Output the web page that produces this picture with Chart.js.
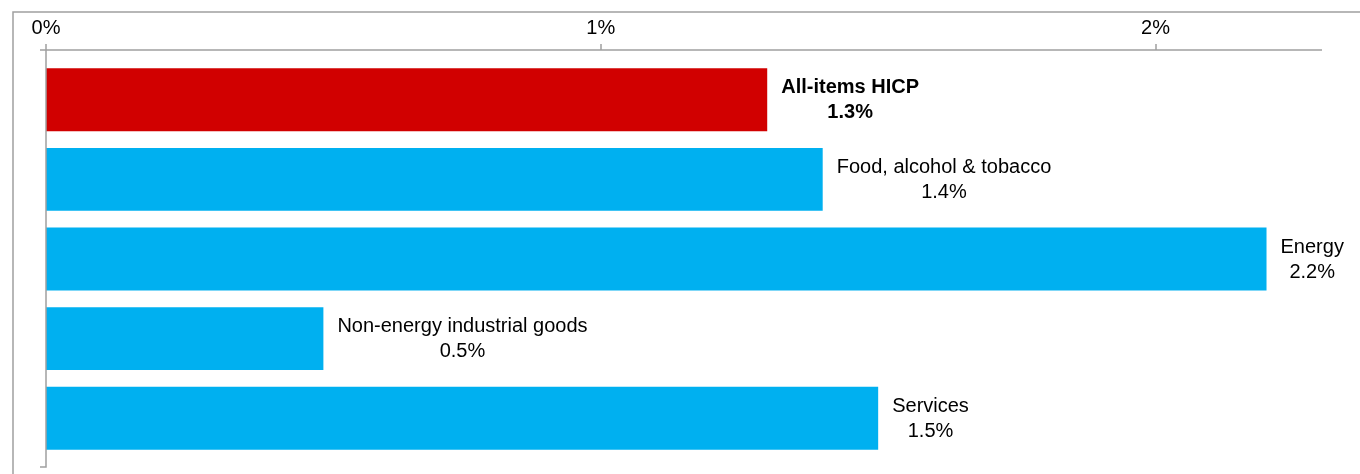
<!DOCTYPE html>
<html>
<head>
<meta charset="utf-8">
<script src="https://cdn.jsdelivr.net/npm/chart.js@4/dist/chart.umd.min.js"></script>
<style>
	html, body { margin: 0; padding: 0; background: #fff; }
	#wrap { width: 1360px; height: 474px; position: relative; }
</style>
</head>
<body>
<div id="wrap"><canvas id="hicp"></canvas></div>
<script>
// categories and values
const categories = [
	"All-items HICP",
	"Food, alcohol & tobacco",
	"Energy",
	"Non-energy industrial goods",
	"Services",
];
const values = [1.3, 1.4, 2.2, 0.5, 1.5];
const barColors = ["#d10000", "#00b0f0", "#00b0f0", "#00b0f0", "#00b0f0"];
const xTicks = [0, 1, 2];
const xMax = 2.3;

const FONT = "'Liberation Sans', Arial, sans-serif";
const LINE_GREY = "#a0a0a0";

// draw the frame, axis lines and the two-line labels next to each bar
const decorations = {
	id: "decorations",
	afterDraw(chart) {
		const ctx = chart.ctx;
		const area = chart.chartArea;
		const x = chart.scales.x;
		const axisY = 50;

		ctx.save();
		ctx.strokeStyle = LINE_GREY;
		ctx.lineWidth = 1.5;

		// outer frame (top and left)
		ctx.beginPath();
		ctx.moveTo(13, chart.height);
		ctx.lineTo(13, 12);
		ctx.lineTo(chart.width, 12);
		ctx.stroke();

		// value axis line + tick marks
		ctx.beginPath();
		ctx.moveTo(40, axisY);
		ctx.lineTo(area.right, axisY);
		xTicks.forEach((t) => {
			const px = Math.round(x.getPixelForValue(t));
			ctx.moveTo(px, axisY - 6);
			ctx.lineTo(px, axisY);
		});
		// category axis line
		const left = Math.round(x.getPixelForValue(0));
		ctx.moveTo(left, axisY - 6);
		ctx.lineTo(left, area.bottom + 9);
		ctx.lineTo(left - 6, area.bottom + 9);
		ctx.stroke();

		// labels
		const meta = chart.getDatasetMeta(0);
		ctx.fillStyle = "#000";
		ctx.textAlign = "center";
		ctx.textBaseline = "middle";
		meta.data.forEach((bar, i) => {
			ctx.font = (i === 0 ? "bold " : "") + "20px " + FONT;
			const lines = [categories[i], values[i].toFixed(1) + "%"];
			const w = Math.max(...lines.map((l) => ctx.measureText(l).width));
			const cx = bar.x + 14 + w / 2;
			ctx.fillText(lines[0], cx, bar.y - 12);
			ctx.fillText(lines[1], cx, bar.y + 13);
		});
		ctx.restore();
	},
};

const chart = new Chart(document.getElementById("hicp"), {
	type: "bar",
	data: {
		labels: categories,
		datasets: [
			{
				data: values,
				backgroundColor: barColors,
				borderWidth: 0,
				categoryPercentage: 1,
				barPercentage: 0.79,
			},
		],
	},
	options: {
		indexAxis: "y",
		responsive: true,
		maintainAspectRatio: false,
		animation: false,
		layout: {
			padding: { left: 46, right: 38, top: 0, bottom: 16 },
		},
		scales: {
			x: {
				position: "top",
				min: 0,
				max: xMax,
				afterBuildTicks: (scale) => {
					scale.ticks = xTicks.map((v) => ({ value: v }));
				},
				afterFit: (scale) => {
					scale.height = 60;
				},
				ticks: {
					callback: (v) => v + "%",
					color: "#000",
					font: { family: FONT, size: 20 },
					padding: 12,
					maxRotation: 0,
				},
				grid: { display: false },
				border: { display: false },
			},
			y: {
				display: false,
			},
		},
		plugins: {
			legend: { display: false },
			tooltip: { enabled: false },
		},
	},
	plugins: [decorations],
});
</script>
</body>
</html>
